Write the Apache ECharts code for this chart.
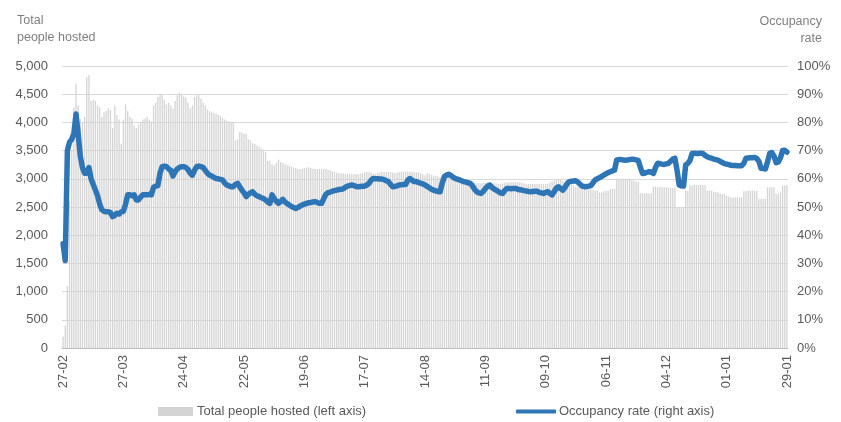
<!DOCTYPE html>
<html>
<head>
<meta charset="utf-8">
<script src="https://cdn.jsdelivr.net/npm/echarts@6/dist/echarts.min.js"></script>
<style>
  html, body { margin: 0; padding: 0; background: #fff; }
  #chart { width: 841px; height: 422px; }
</style>
</head>
<body>
<div id="chart"></div>
<script>
// daily series, 27-02 .. 29-01 (one row = 4 weeks)
const startDate = '2022-02-27';
const tickLabels = ['27-02', '27-03', '24-04', '22-05', '19-06', '17-07', '14-08',
  '11-09', '09-10', '06-11', '04-12', '01-01', '29-01'];

const peopleHosted = [
  200, 400, 1100, 2600, 3500, 4260, 4680, 4300, 4060, 4000, 4100, 4800, 4840, 4380, 4400, 4380, 4300, 4270, 4100, 4180, 4200, 4250, 4220, 3900, 4300, 4130, 4050, 3620,
  4050, 4320, 4200, 4100, 4070, 3950, 3900, 3960, 4000, 4050, 4070, 4100, 4050, 4020, 4300, 4350, 4450, 4500, 4480, 4400, 4320, 4350, 4300, 4250, 4380, 4480, 4530, 4500,
  4460, 4440, 4350, 4250, 4300, 4450, 4480, 4480, 4420, 4350, 4300, 4230, 4200, 4180, 4170, 4150, 4130, 4120, 4080, 4050, 4030, 4020, 4010, 4010, 3680, 3700, 3830, 3820,
  3800, 3800, 3700, 3680, 3630, 3620, 3590, 3570, 3540, 3520, 3480, 3320, 3320, 3260, 3240, 3280, 3340, 3300, 3280, 3260, 3240, 3230, 3215, 3200, 3190, 3175, 3175, 3180,
  3190, 3200, 3200, 3190, 3180, 3180, 3175, 3175, 3170, 3170, 3175, 3160, 3150, 3135, 3120, 3110, 3100, 3100, 3095, 3090, 3090, 3090, 3085, 3080, 3080, 3080, 3090, 3100,
  3110, 3120, 3120, 3110, 3090, 3090, 3100, 3110, 3120, 3120, 3120, 3120, 3120, 3110, 3100, 3110, 3120, 3120, 3125, 3130, 3130, 3125, 3120, 3115, 3115, 3120, 3100, 3080,
  3060, 3100, 3080, 3070, 3060, 3050, 3040, 3030, 3030, 3030, 3030, 3030, 3030, 3030, 3025, 3020, 3030, 3000, 2980, 2960, 2950, 2940, 2930, 2930, 2920, 2920, 2920, 2930,
  2935, 2940, 2940, 2930, 2920, 2915, 2910, 2910, 2920, 2930, 2940, 2940, 2940, 2940, 2940, 2940, 2935, 2925, 2915, 2910, 2910, 2910, 2910, 2910, 2910, 2910, 2910, 2910,
  2910, 2910, 2930, 2950, 2970, 2980, 2990, 3000, 2960, 2930, 2920, 2920, 2900, 2880, 2860, 2850, 2850, 2850, 2850, 2850, 2850, 2820, 2800, 2790, 2790, 2760, 2760, 2780,
  2790, 2790, 2820, 2820, 2820, 3000, 3000, 3000, 3000, 3000, 3000, 3000, 2970, 2970, 2950, 2950, 2745, 2745, 2745, 2745, 2745, 2745, 2860, 2860, 2850, 2850, 2850, 2850,
  2850, 2840, 2840, 2840, 2840, 2485, 2485, 2485, 2485, 2790, 2790, 2880, 2880, 2890, 2890, 2890, 2890, 2890, 2890, 2790, 2790, 2790, 2770, 2760, 2760, 2740, 2730, 2730,
  2700, 2690, 2670, 2670, 2670, 2670, 2670, 2670, 2780, 2780, 2790, 2790, 2790, 2790, 2790, 2645, 2645, 2645, 2645, 2850, 2850, 2850, 2850, 2730, 2730, 2760, 2880, 2880,
  2880
];

const occupancyRate = [
  37, 31, 70, 73, 74, 76, 83, 76, 68, 64, 62, 62, 64, 60, 58, 56, 54, 51, 49, 48.5, 48.3, 48.3, 48, 46.6, 47, 47.8, 47.5, 48.3,
  48.5, 51, 54.3, 54.3, 54, 54.3, 52.5, 52.5, 53.5, 54.3, 54.3, 54.3, 54.5, 54.3, 57, 57.4, 57.6, 62, 64.3, 64.5, 64.3, 63.5, 63, 61, 62.5, 63.5, 64, 64.3,
  64.3, 64, 63.3, 62, 61.3, 63, 64.3, 64.5, 64.3, 64, 63, 62, 61.3, 61, 60.5, 60.1, 60, 59.8, 59.6, 58.5, 57.8, 57.5, 57.2, 57.2, 58, 58.4, 57.2, 56,
  55, 53.7, 54.5, 55, 55.4, 54.5, 54, 53.7, 53.3, 53, 52.5, 51.8, 51.3, 54.3, 53, 52, 51.3, 52, 52.7, 51.8, 51.2, 50.7, 50.2, 49.8, 49.5, 49.8, 50.3, 50.7,
  51, 51.3, 51.5, 51.6, 51.8, 51.9, 51.6, 51.3, 51.3, 53, 54.5, 55.1, 55.3, 55.6, 55.8, 56, 56.2, 56.3, 56.4, 57, 57.4, 57.6, 57.8, 57.6, 57.3, 57.2, 57.3, 57.4,
  57.4, 57.8, 58.4, 59.5, 60.1, 60, 60, 59.9, 59.9, 59.7, 59.3, 59, 58, 57.2, 57.3, 57.5, 57.8, 57.9, 58, 58, 59.5, 60.1, 59.5, 59, 59, 58.7, 58.4, 58.2,
  57.8, 57.3, 56.8, 56.3, 56, 55.7, 55.5, 55.4, 58.5, 60.8, 61.3, 61.6, 61.2, 60.6, 60.1, 59.9, 59.6, 59.3, 59, 58.8, 58.6, 58.4, 57.5, 56.3, 55.4, 55, 54.8, 55.5,
  56.5, 57.3, 57.8, 57, 56.4, 56, 55.5, 55, 54.8, 55.8, 56.6, 56.6, 56.5, 56.6, 56.6, 56.3, 56.1, 56, 55.8, 55.7, 55.5, 55.4, 55.5, 55.6, 55.6, 55.2, 55, 54.8,
  55.2, 55.4, 54.8, 54.3, 55.5, 56.8, 57.2, 56.5, 56, 57, 58.3, 59, 59.1, 59.2, 59.3, 58.8, 58, 57.4, 57.2, 57.3, 57.4, 57.6, 58.6, 59.6, 60, 60.4, 60.8, 61.3,
  61.8, 62.2, 62.5, 62.8, 63.1, 66.7, 66.8, 66.8, 66.7, 66.6, 66.7, 66.8, 66.9, 66.9, 66.7, 66.5, 64, 61.9, 62, 62.3, 62.5, 62.4, 61.9, 64, 65.5, 65.4, 65.2, 65.1,
  65.3, 65.5, 66.2, 67, 67.3, 63, 57.8, 57.5, 57.4, 64.9, 65.5, 66.5, 69, 69.1, 69, 69, 69.1, 69, 68.3, 67.8, 67.5, 67.3, 67, 66.8, 66.6, 66.2, 65.8, 65.4,
  65.2, 65, 64.8, 64.7, 64.7, 64.6, 64.6, 64.6, 65.5, 67.3, 67.4, 67.5, 67.5, 67.6, 67.2, 66.2, 63.7, 63.6, 63.5, 66, 69, 69.3, 68, 65.7, 66, 67.5, 70, 70.1,
  69.5
];

// day labels DD-MM
const categories = [];
const d0 = new Date(startDate + 'T00:00:00Z');
for (let i = 0; i < peopleHosted.length; i++) {
  const d = new Date(d0.getTime() + i * 86400000);
  const dd = String(d.getUTCDate()).padStart(2, '0');
  const mm = String(d.getUTCMonth() + 1).padStart(2, '0');
  categories.push(dd + '-' + mm);
}

const FONT = 'Liberation Sans';
const GREY = '#595959';
const BLUE = '#2e75b6';
const headStyle = { fill: '#7f7f7f', font: '12.5px "Liberation Sans"' };

const chart = echarts.init(document.getElementById('chart'));
chart.setOption({
  animation: false,
  textStyle: { fontFamily: FONT },
  title: {
    text: 'Total\npeople hosted', left: 12, top: 7,
    textStyle: { fontSize: 12.5, fontWeight: 'normal', color: '#7f7f7f', lineHeight: 17 }
  },
  // right axis heading, each line right-aligned
  graphic: [
    { type: 'text', right: 19, top: 15, style: Object.assign({ text: 'Occupancy' }, headStyle) },
    { type: 'text', right: 19, top: 32, style: Object.assign({ text: 'rate' }, headStyle) }
  ],
  legend: [
    {
      left: 153, top: 400, icon: 'rect', itemWidth: 35, itemHeight: 9, itemGap: 4,
      data: ['Total people hosted (left axis)'],
      textStyle: { fontSize: 13, color: GREY, padding: [0, 0, 0, -1] }
    },
    {
      left: 511, top: 400, icon: 'roundRect', itemWidth: 40, itemHeight: 4, itemGap: 4,
      data: ['Occupancy rate (right axis)'],
      textStyle: { fontSize: 13, color: GREY, padding: [0, 0, 0, -2] }
    }
  ],
  grid: { left: 62, right: 53, top: 66, bottom: 74 },
  xAxis: {
    type: 'category',
    data: categories,
    boundaryGap: true,
    axisLine: { lineStyle: { color: '#bfbfbf' } },
    axisTick: {
      interval: (i, v) => tickLabels.indexOf(v) >= 0,
      alignWithLabel: true, length: 5, lineStyle: { color: '#bfbfbf' }
    },
    axisLabel: {
      interval: (i, v) => tickLabels.indexOf(v) >= 0,
      rotate: 90, margin: 7, fontSize: 13, color: GREY
    }
  },
  yAxis: [
    {
      type: 'value', min: 0, max: 5000, interval: 500,
      axisLine: { show: false }, axisTick: { show: false },
      axisLabel: {
        margin: 14, fontSize: 13, color: GREY,
        formatter: v => v.toLocaleString('en-US')
      },
      splitLine: { lineStyle: { color: '#d9d9d9' } }
    },
    {
      type: 'value', min: 0, max: 100, interval: 10,
      axisLine: { show: false }, axisTick: { show: false },
      axisLabel: { margin: 9, fontSize: 13, color: GREY, formatter: '{value}%' },
      splitLine: { show: false }
    }
  ],
  series: [
    {
      name: 'Total people hosted (left axis)',
      type: 'bar',
      yAxisIndex: 0,
      data: peopleHosted,
      barCategoryGap: '40%',
      itemStyle: { color: '#d4d4d4' }
    },
    {
      name: 'Occupancy rate (right axis)',
      type: 'line',
      yAxisIndex: 1,
      data: occupancyRate,
      showSymbol: false,
      symbol: 'none',
      lineStyle: { width: 5.5, color: BLUE, join: 'round', cap: 'round' },
      itemStyle: { color: BLUE }
    }
  ]
});
window.addEventListener('resize', () => chart.resize());
</script>
</body>
</html>
